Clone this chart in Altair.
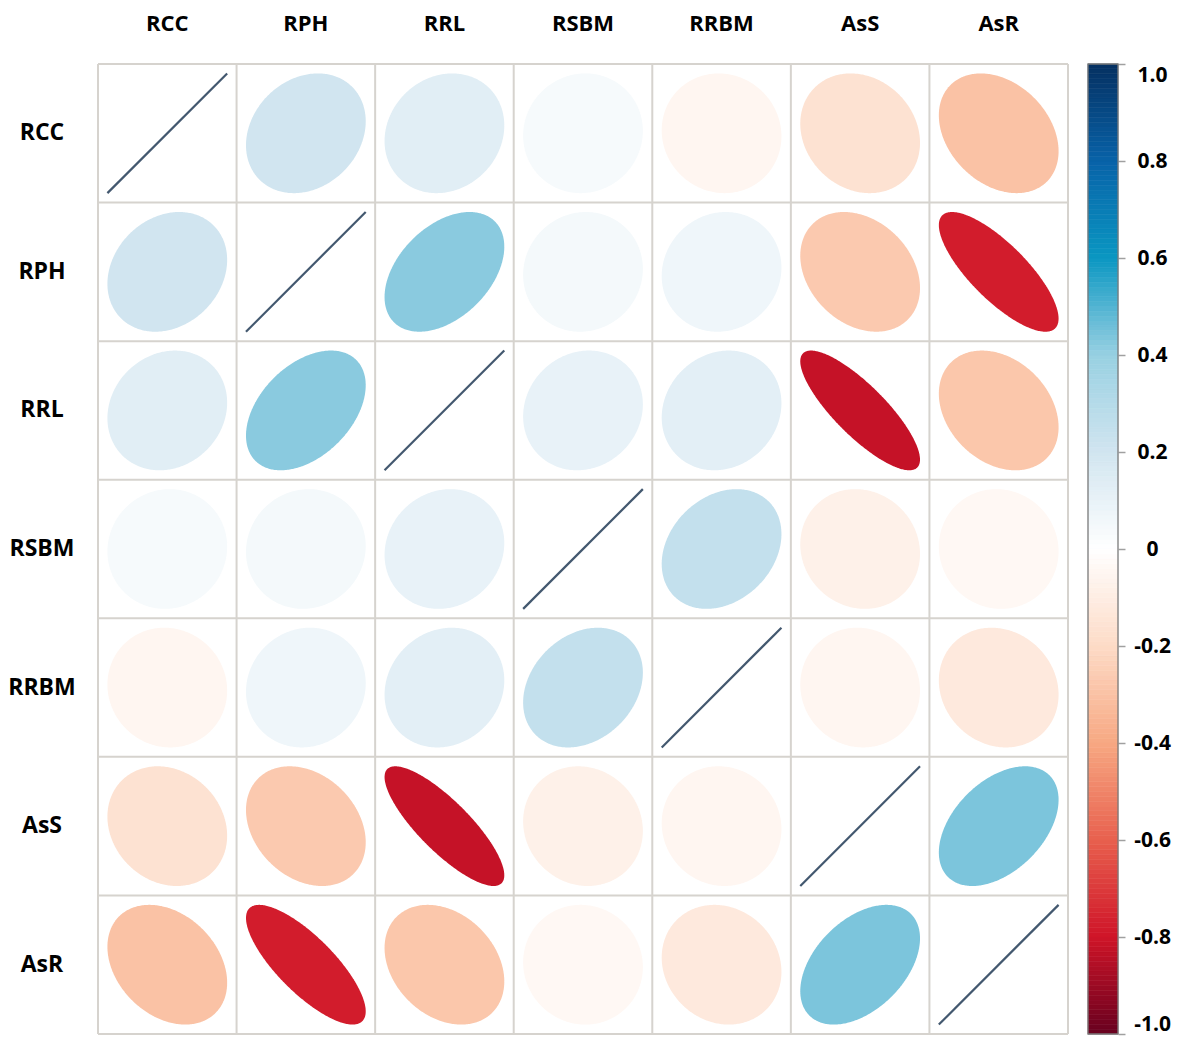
import numpy as np
import pandas as pd
import altair as alt

# ---------------- data ----------------
names = ["RCC", "RPH", "RRL", "RSBM", "RRBM", "AsS", "AsR"]
r_RCC = [1.00, 0.20, 0.13, 0.04, -0.05, -0.16, -0.30]
r_RPH = [0.20, 1.00, 0.42, 0.05, 0.07, -0.27, -0.78]
r_RRL = [0.13, 0.42, 1.00, 0.10, 0.12, -0.82, -0.28]
r_RSBM = [0.04, 0.05, 0.10, 1.00, 0.25, -0.08, -0.04]
r_RRBM = [-0.05, 0.07, 0.12, 0.25, 1.00, -0.05, -0.12]
r_AsS = [-0.16, -0.27, -0.82, -0.08, -0.05, 1.00, 0.44]
r_AsR = [-0.30, -0.78, -0.28, -0.04, -0.12, 0.44, 1.00]
corr = [r_RCC, r_RPH, r_RRL, r_RSBM, r_RRBM, r_AsS, r_AsR]

color_stops = [-1.0, -0.8, -0.6, -0.4, -0.2, 0.0, 0.2, 0.4, 0.6, 0.8, 1.0]
color_range = ["#67001F", "#CF1428", "#E8604E", "#F7A882", "#FDDBC7", "#FFFFFF",
               "#D1E5F0", "#98D0E2", "#0A97C2", "#0862A8", "#053061"]
bar_ticks = [1.0, 0.8, 0.6, 0.4, 0.2, 0.0, -0.2, -0.4, -0.6, -0.8, -1.0]

# ---------------- geometry (derived from values) ----------------
S = 0.432          # ellipse half-extent, in cell units
n = len(names)
t = np.linspace(np.pi, 0, 161)
xs_unit = np.cos(t)

ell_rows, diag_rows = [], []
for i in range(n):
    for j in range(n):
        r = corr[i][j]
        cx, cy = j + 0.5, (n - 0.5) - i
        if i == j:
            diag_rows.append(dict(x=cx - S, x2=cx + S, y=cy - S, y2=cy + S))
            continue
        half = np.sqrt(np.clip((1 - r * r) * (1 - xs_unit ** 2), 0, None))
        for xu, h in zip(xs_unit, half):
            ell_rows.append(dict(cell=f"{i}-{j}", r=r,
                                 x=cx + S * xu,
                                 y=cy + S * (r * xu - h),
                                 y2=cy + S * (r * xu + h)))
ell_df = pd.DataFrame(ell_rows)
diag_df = pd.DataFrame(diag_rows)

grid_df = pd.DataFrame({"k": list(range(n + 1)), "lo": 0, "hi": n})
top_df = pd.DataFrame({"name": names, "xc": [j + 0.5 for j in range(n)]})
left_df = pd.DataFrame({"name": names, "yc": [(n - 0.5) - i for i in range(n)]})

vals = np.round(np.arange(-1.0, 1.0, 0.01), 4)
cb_df = pd.DataFrame({"v": vals, "v2": vals + 0.01, "vm": vals + 0.005})
cb_border = pd.DataFrame({"v": [-1.0], "v2": [1.0]})

# ---------------- scales ----------------
xsc = alt.Scale(domain=[0, n], nice=False, zero=False)
ysc = alt.Scale(domain=[0, n], nice=False, zero=False)
csc = alt.Scale(domain=color_stops, range=color_range, interpolate="rgb")

FONT = "Open Sans"
GRID = "#D6D3CE"

ellipses = alt.Chart(ell_df).mark_area(interpolate="linear", orient="vertical").encode(
    x=alt.X("x:Q", scale=xsc, axis=None),
    y=alt.Y("y:Q", scale=ysc, axis=None),
    y2="y2:Q",
    color=alt.Color("r:Q", scale=csc, legend=None),
    detail="cell:N",
)

diag = alt.Chart(diag_df).mark_rule(color="#43586F", strokeWidth=2.2).encode(
    x=alt.X("x:Q", scale=xsc, axis=None), x2="x2:Q",
    y=alt.Y("y:Q", scale=ysc, axis=None), y2="y2:Q",
)

grid_v = alt.Chart(grid_df).mark_rule(color=GRID, strokeWidth=2).encode(
    x=alt.X("k:Q", scale=xsc, axis=None),
    y=alt.Y("lo:Q", scale=ysc, axis=None), y2="hi:Q",
)
grid_h = alt.Chart(grid_df).mark_rule(color=GRID, strokeWidth=2).encode(
    y=alt.Y("k:Q", scale=ysc, axis=None),
    x=alt.X("lo:Q", scale=xsc, axis=None), x2="hi:Q",
)

top_text = alt.Chart(top_df).mark_text(
    font=FONT, fontSize=22, fontWeight="bold", color="black",
    align="center", baseline="middle",
).encode(x=alt.X("xc:Q", scale=xsc, axis=None), y=alt.value(-40), text="name:N")

left_text = alt.Chart(left_df).mark_text(
    font=FONT, fontSize=23, fontWeight="bold", color="black",
    align="center", baseline="middle",
).encode(y=alt.Y("yc:Q", scale=ysc, axis=None), x=alt.value(-56), text="name:N")

main = alt.layer(grid_v, grid_h, ellipses, diag, top_text, left_text)

cb_axis = alt.Axis(
    orient="right", offset=50, values=bar_ticks, title=None, grid=False,
    domain=False, ticks=True, tickSize=7, tickColor="#A0A0A0", tickWidth=1.5,
    labelFont=FONT, labelFontSize=21, labelFontWeight="bold", labelColor="black",
    labelAlign="center", labelPadding=27, labelFlush=True,
    labelExpr="datum.value == 0 ? '0' : (datum.value < 0 ? '-' + format(-datum.value, '.1f') : format(datum.value, '.1f'))",
)
cbsc = alt.Scale(domain=[-1, 1], nice=False, zero=False)

cb_rects = alt.Chart(cb_df).mark_rect(strokeWidth=0.6).encode(
    x=alt.value(990), x2=alt.value(1020),
    y=alt.Y("v:Q", scale=cbsc, axis=cb_axis), y2="v2:Q",
    color=alt.Color("vm:Q", scale=csc, legend=None),
    stroke=alt.Stroke("vm:Q", scale=csc, legend=None),
)
cb_frame = alt.Chart(cb_border).mark_rect(filled=False, stroke="#7A7A7A", strokeWidth=1.3).encode(
    x=alt.value(990), x2=alt.value(1020),
    y=alt.Y("v:Q", scale=cbsc, axis=cb_axis), y2="v2:Q",
)
cbar = alt.layer(cb_rects, cb_frame)

chart = alt.layer(main, cbar).resolve_scale(y="independent").properties(
    width=970, height=970,
    autosize=alt.AutoSizeParams(type="none"),
    padding={"left": 90, "top": 56, "right": 105, "bottom": 3},
    background="white",
).configure_view(stroke=None)

chart.save("out.html", embed_options={"renderer": "svg", "actions": False})
